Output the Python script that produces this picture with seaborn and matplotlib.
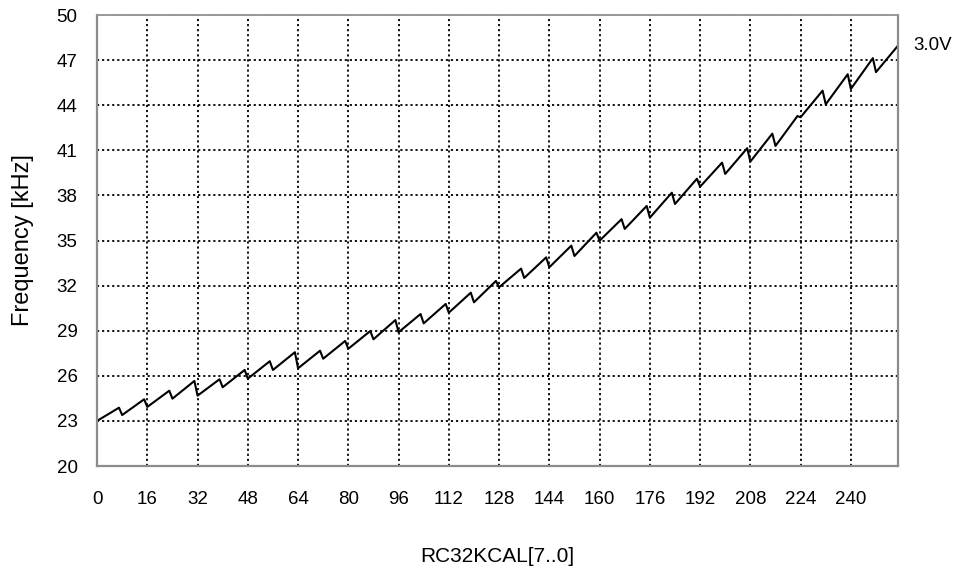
import matplotlib
matplotlib.use("Agg")
import matplotlib.pyplot as plt
import seaborn as sns
import pandas as pd

# segment start codes (each segment spans 8 codes)
seg_start_code = [0, 8, 16, 24, 32, 40, 48, 56, 64, 72, 80, 88, 96, 104, 112, 120,
                  128, 136, 144, 152, 160, 168, 176, 184, 192, 200, 208, 216, 224, 232, 240, 248]
seg_end_code = [7, 15, 23, 31, 39, 47, 55, 63, 71, 79, 87, 95, 103, 111, 119, 127,
                135, 143, 151, 159, 167, 175, 183, 191, 199, 207, 215, 223, 231, 239, 247, 255]
# frequency (kHz) at segment start and end
seg_start_freq = [23.00, 23.39, 23.93, 24.48, 24.68, 25.24, 25.81, 26.39,
                  26.50, 27.14, 27.80, 28.43, 28.90, 29.49, 30.20, 30.89,
                  31.89, 32.51, 33.22, 33.97, 34.99, 35.77, 36.52, 37.43,
                  38.58, 39.43, 40.25, 41.29, 43.20, 44.06, 45.08, 46.20]
seg_end_freq = [23.88, 24.44, 25.01, 25.66, 25.77, 26.39, 26.97, 27.57,
                27.67, 28.32, 28.98, 29.71, 30.11, 30.78, 31.53, 32.31,
                33.13, 33.88, 34.66, 35.52, 36.42, 37.30, 38.18, 39.11,
                40.18, 41.14, 42.11, 43.28, 44.97, 46.06, 47.13, 47.96]

x_ticks = [0, 16, 32, 48, 64, 80, 96, 112, 128, 144, 160, 176, 192, 208, 224, 240]
y_ticks = [20, 23, 26, 29, 32, 35, 38, 41, 44, 47, 50]
series_label = "3.0V"

codes, freqs = [], []
for a, b, fa, fb in zip(seg_start_code, seg_end_code, seg_start_freq, seg_end_freq):
    codes += [a, b]
    freqs += [fa, fb]
df = pd.DataFrame({"code": codes, "freq": freqs})

sns.set_theme(style="white")
plt.rcParams["font.family"] = ["Liberation Sans", "DejaVu Sans"]
plt.rcParams["text.color"] = "black"
plt.rcParams["axes.labelcolor"] = "black"
plt.rcParams["xtick.color"] = "black"
plt.rcParams["ytick.color"] = "black"

fig = plt.figure(figsize=(9.56, 5.73), dpi=100)
ax = fig.add_axes([0.1015, 0.1867, 0.8378, 0.7871])

sns.lineplot(data=df, x="code", y="freq", ax=ax, color="black", linewidth=1.5,
             estimator=None, sort=False)

ax.set_xlim(0, 255)
ax.set_ylim(20, 50)
ax.set_xticks(x_ticks)
ax.set_yticks(y_ticks)
ax.set_xticklabels([str(t) for t in x_ticks], fontsize=13.5)
ax.set_yticklabels([str(t) for t in y_ticks], fontsize=13.5)
ax.tick_params(axis="x", length=0, pad=18, labelcolor="black")
ax.tick_params(axis="y", length=0, pad=14, labelcolor="black")

ax.grid(True, color="black", linestyle=(0, (1.2, 1.6)), linewidth=1.3)
for s in ["left", "bottom", "right"]:
    ax.spines[s].set_color("#8c8c8c")
    ax.spines[s].set_linewidth(1.6)
    ax.spines[s].set_visible(True)
ax.spines["top"].set_color("#999999")
ax.spines["top"].set_linestyle((0, (2, 1)))
ax.spines["top"].set_linewidth(1.4)

ax.set_xlabel("RC32KCAL[7..0]", fontsize=15, labelpad=28, color="black")
ax.set_ylabel("Frequency [kHz]", fontsize=17, labelpad=16, color="black")

ax.text(1.019, 0.932, series_label, transform=ax.transAxes, fontsize=13.5,
        ha="left", va="center", clip_on=False, color="black")

fig.savefig("out.png", dpi=100)
